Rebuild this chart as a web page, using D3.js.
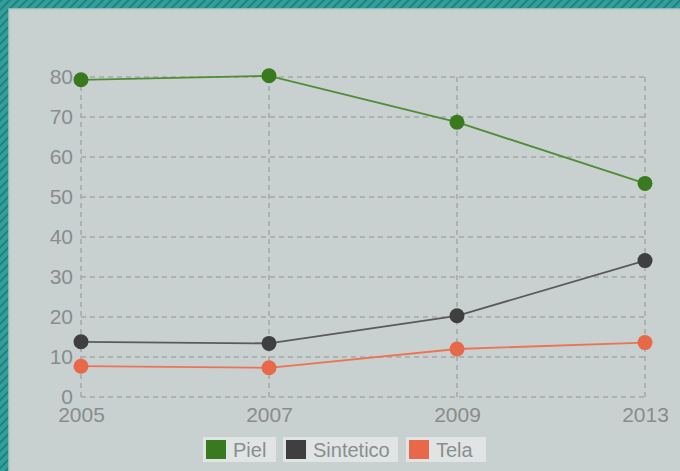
<!DOCTYPE html>
<html><head><meta charset="utf-8">
<script src="https://cdn.jsdelivr.net/npm/d3@7"></script>
<style>html,body{margin:0;padding:0;overflow:hidden;background:#c8d1d0;}</style>
</head><body>
<svg id="c" width="680" height="471"></svg>
<script>
const years = ["2005","2007","2009","2013"];
const piel = [79.3, 80.3, 68.7, 53.4];
const sintetico = [13.8, 13.4, 20.3, 34.1];
const tela = [7.7, 7.3, 12.0, 13.6];
const yTicks = [0,10,20,30,40,50,60,70,80];
const seriesNames = ["Piel","Sintetico","Tela"];
const seriesColors = ["#3a7a1f","#3f3f3f","#e8694a"];
const lineColors = ["#4f8d35","#5a5a5a","#ec7356"];

const series = seriesNames.map((n,i)=>({name:n, values:[piel,sintetico,tela][i], color:seriesColors[i], line:lineColors[i]}));
const font = "Liberation Sans, Arial, sans-serif";

const svg = d3.select("#c");
const defs = svg.append("defs");
const pat = defs.append("pattern").attr("id","stripes").attr("width",6).attr("height",6)
  .attr("patternUnits","userSpaceOnUse").attr("patternTransform","rotate(45)");
pat.append("rect").attr("width",6).attr("height",6).attr("fill","#31a09c");
pat.append("rect").attr("width",2).attr("height",6).attr("fill","#25807c");

svg.append("rect").attr("width",680).attr("height",471).attr("fill","url(#stripes)");
svg.append("rect").attr("x",9).attr("y",9).attr("width",680).attr("height",471).attr("fill","#c8d1d0")
  .attr("stroke","#adc6c5").attr("stroke-width",1.5);

const x = d3.scalePoint().domain(years).range([81,645]);
const y = d3.scaleLinear().domain([0,80]).range([397,77]);

const g = svg.append("g");
g.selectAll("line.h").data(yTicks).join("line")
  .attr("x1",81).attr("x2",645).attr("y1",d=>y(d)).attr("y2",d=>y(d))
  .attr("stroke","#a3a8a8").attr("stroke-width",1.5).attr("stroke-dasharray","5,4");
g.selectAll("line.v").data(years).join("line")
  .attr("x1",d=>x(d)).attr("x2",d=>x(d)).attr("y1",77).attr("y2",397)
  .attr("stroke","#a3a8a8").attr("stroke-width",1.5).attr("stroke-dasharray","5,4");

const yAxis = d3.axisLeft(y).tickValues(yTicks).tickSize(0).tickPadding(8);
const ya = g.append("g").attr("transform","translate(81,0)").call(yAxis);
ya.select(".domain").remove();
ya.selectAll("text").attr("fill","#888c8c").style("font-family",font).style("font-size","21px");

const xAxis = d3.axisBottom(x).tickSize(0).tickPadding(10);
const xa = g.append("g").attr("transform","translate(0,397)").call(xAxis);
xa.select(".domain").remove();
xa.selectAll("text").attr("fill","#888c8c").style("font-family",font).style("font-size","21px");

const line = d3.line().x((d,i)=>x(years[i])).y(d=>y(d));
series.forEach(s=>{
  g.append("path").datum(s.values).attr("d",line).attr("fill","none")
    .attr("stroke",s.line).attr("stroke-width",1.8);
  g.selectAll(null).data(s.values).join("circle")
    .attr("cx",(d,i)=>x(years[i])).attr("cy",d=>y(d)).attr("r",7.5).attr("fill",s.color);
});

const legendX = [203,283,406];
const legendW = [73,115,80];
const lg = svg.append("g");
series.forEach((s,i)=>{
  const it = lg.append("g").attr("transform",`translate(${legendX[i]},437)`);
  it.append("rect").attr("width",legendW[i]).attr("height",25).attr("fill","#e4e8e8").attr("opacity",0.85);
  it.append("rect").attr("x",3).attr("y",3).attr("width",20).attr("height",19).attr("fill",s.color);
  it.append("text").attr("x",30).attr("y",20).text(s.name).attr("fill","#8a8e8e")
    .style("font-family",font).style("font-size","20px");
});
</script>
</body></html>
